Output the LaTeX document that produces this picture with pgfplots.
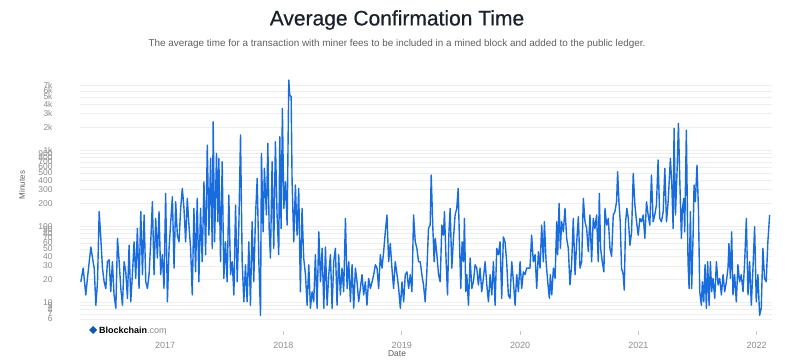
\documentclass[border=0pt]{standalone}
\usepackage{pgfplots}
\pgfplotsset{compat=1.18}
\usepackage{pgfplotstable}
\usepackage{fontspec}
\setmainfont{Liberation Sans}
\newfontfamily\titlefont[FakeBold=0.5]{Liberation Sans}
\definecolor{lineblue}{RGB}{24,108,222}
\definecolor{ticktext}{RGB}{140,140,140}
\definecolor{titletext}{RGB}{28,32,44}
\definecolor{subtext}{RGB}{95,95,95}
\pgfplotstableread{
x y
2016.287 18.5
2016.307 28
2016.329 12.4
2016.343 20.5
2016.358 34
2016.372 53
2016.386 38
2016.400 28
2016.414 9.1
2016.428 18.5
2016.442 155
2016.456 69
2016.470 28
2016.484 18.5
2016.498 15.1
2016.512 34
2016.526 36
2016.540 13.7
2016.554 34
2016.568 12.4
2016.583 8.3
2016.597 69
2016.611 34
2016.625 15.1
2016.639 9.1
2016.653 34
2016.667 25
2016.681 11.2
2016.695 56
2016.709 10.1
2016.723 23
2016.737 62
2016.751 20.5
2016.765 93
2016.779 15.1
2016.794 155
2016.808 23
2016.822 140
2016.836 18.5
2016.850 15.1
2016.864 23
2016.878 62
2016.892 209
2016.906 23
2016.920 126
2016.934 38
2016.948 155
2016.962 23
2016.976 42
2016.990 15.1
2017.004 269
2017.019 10.1
2017.033 51
2017.047 114
2017.061 243
2017.075 28
2017.089 209
2017.103 76
2017.117 62
2017.131 171
2017.145 313
2017.159 171
2017.173 62
2017.187 231
2017.201 103
2017.215 51
2017.229 12.4
2017.243 171
2017.257 25
2017.271 231
2017.285 18.5
2017.299 171
2017.313 34
2017.328 383
2017.342 42
2017.356 1165
2017.370 76
2017.384 778
2017.398 51
2017.406 2360
2017.418 62
2017.434 904
2017.446 114
2017.454 778
2017.468 34
2017.482 703
2017.496 20.5
2017.510 62
2017.524 18.5
2017.538 256
2017.553 23
2017.567 34
2017.581 12.4
2017.595 189
2017.609 18.5
2017.623 103
2017.637 1580
2017.651 34
2017.665 10.1
2017.679 31
2017.693 10.1
2017.707 62
2017.721 9.1
2017.735 114
2017.749 18.5
2017.764 140
2017.778 424
2017.792 34
2017.806 6.7
2017.814 904
2017.828 84
2017.839 574
2017.856 140
2017.868 1225
2017.879 93
2017.890 38
2017.904 703
2017.918 51
2017.932 1290
2017.946 140
2017.960 42
2017.969 1500
2017.980 93
2017.991 3530
2018.003 171
2018.017 383
2018.031 103
2018.045 8340
2018.053 5300
2018.065 5030
2018.073 383
2018.087 62
2018.101 347
2018.115 76
2018.129 313
2018.143 13.7
2018.157 171
2018.171 38
2018.186 23
2018.200 9.1
2018.214 31
2018.228 8.3
2018.242 13.7
2018.256 10.1
2018.270 42
2018.284 8.3
2018.299 84
2018.313 18.5
2018.327 51
2018.341 8.3
2018.355 53
2018.369 9.1
2018.383 23
2018.397 42
2018.411 8.3
2018.425 34
2018.439 51
2018.453 9.1
2018.467 42
2018.481 12.4
2018.495 28
2018.509 13.7
2018.524 126
2018.538 15.1
2018.552 34
2018.566 10.1
2018.580 31
2018.594 8.3
2018.608 28
2018.622 18.5
2018.636 10.1
2018.650 15.1
2018.664 23
2018.678 12.4
2018.692 18.5
2018.706 9.1
2018.720 20.5
2018.735 15.1
2018.749 18.5
2018.763 23
2018.777 31
2018.791 28
2018.805 15.1
2018.819 42
2018.833 28
2018.847 46
2018.861 84
2018.875 140
2018.889 34
2018.903 59
2018.917 28
2018.931 15.1
2018.945 34
2018.960 23
2018.974 15.1
2018.988 8.3
2019.002 18.5
2019.016 10.1
2019.030 23
2019.044 25
2019.058 15.1
2019.072 23
2019.086 13.7
2019.100 140
2019.114 62
2019.128 51
2019.142 34
2019.156 34
2019.170 23
2019.184 16.8
2019.198 10.1
2019.212 25
2019.226 93
2019.240 103
2019.249 469
2019.263 93
2019.274 34
2019.283 69
2019.297 42
2019.311 23
2019.325 18.5
2019.339 103
2019.353 76
2019.361 155
2019.375 34
2019.387 12.4
2019.398 76
2019.409 171
2019.423 28
2019.437 69
2019.451 140
2019.465 171
2019.477 313
2019.488 62
2019.499 15.1
2019.510 62
2019.522 34
2019.530 126
2019.541 13.7
2019.550 23
2019.564 9.1
2019.578 38
2019.592 15.1
2019.606 18.5
2019.620 31
2019.634 28
2019.648 16.8
2019.662 28
2019.676 13.7
2019.690 20.5
2019.705 34
2019.719 16.8
2019.733 10.1
2019.747 23
2019.761 12.4
2019.775 34
2019.789 9.1
2019.803 51
2019.817 42
2019.831 62
2019.845 11.2
2019.859 72
2019.873 62
2019.887 34
2019.901 12.4
2019.915 11.2
2019.930 34
2019.944 18.5
2019.958 9.1
2019.972 23
2019.986 13.7
2020.000 34
2020.014 15.1
2020.028 25
2020.042 23
2020.056 28
2020.070 28
2020.084 28
2020.098 76
2020.112 34
2020.127 42
2020.141 15.1
2020.155 46
2020.169 28
2020.183 103
2020.197 34
2020.206 114
2020.220 34
2020.234 18.5
2020.248 11.2
2020.256 23
2020.268 12.4
2020.282 28
2020.296 20.5
2020.310 114
2020.318 42
2020.330 199
2020.341 51
2020.352 114
2020.366 84
2020.380 171
2020.394 69
2020.408 51
2020.422 16.8
2020.436 31
2020.450 126
2020.465 23
2020.479 62
2020.493 133
2020.507 28
2020.521 34
2020.535 231
2020.549 114
2020.563 93
2020.577 46
2020.591 140
2020.605 34
2020.619 126
2020.633 93
2020.647 140
2020.661 34
2020.670 269
2020.681 51
2020.695 34
2020.709 25
2020.718 171
2020.732 103
2020.746 126
2020.760 51
2020.774 40
2020.788 140
2020.802 155
2020.816 209
2020.825 519
2020.836 209
2020.847 114
2020.858 28
2020.872 23
2020.881 14.4
2020.892 114
2020.903 171
2020.915 126
2020.929 56
2020.943 84
2020.957 493
2020.971 189
2020.985 114
2020.999 76
2021.013 126
2021.027 114
2021.041 140
2021.055 69
2021.069 209
2021.083 140
2021.097 103
2021.111 469
2021.125 114
2021.139 140
2021.153 189
2021.167 740
2021.181 126
2021.195 114
2021.210 155
2021.224 574
2021.238 114
2021.252 209
2021.271 778
2021.283 347
2021.294 93
2021.302 1930
2021.314 140
2021.328 574
2021.339 2240
2021.350 424
2021.364 69
2021.373 171
2021.384 231
2021.392 84
2021.406 1830
2021.420 34
2021.429 15.1
2021.440 155
2021.451 15.1
2021.463 76
2021.471 347
2021.482 209
2021.496 635
2021.508 171
2021.519 13.7
2021.533 9.1
2021.541 18.5
2021.553 10.1
2021.564 31
2021.575 8.3
2021.586 34
2021.598 9.1
2021.609 34
2021.620 13.7
2021.631 20.5
2021.646 11.2
2021.660 34
2021.674 16.8
2021.688 20.5
2021.702 12.4
2021.716 23
2021.730 13.7
2021.744 18.5
2021.758 28
2021.766 59
2021.778 20.5
2021.789 84
2021.800 12.4
2021.814 23
2021.828 10.1
2021.842 31
2021.856 18.5
2021.870 23
2021.885 13.7
2021.899 34
2021.913 126
2021.927 12.4
2021.941 34
2021.955 9.1
2021.969 28
2021.983 98
2021.997 10.1
2022.011 23
2022.025 6.7
2022.039 8.3
2022.053 51
2022.067 20.5
2022.081 18.5
2022.095 62
2022.110 140
}\conftime
\begin{document}
\begin{tikzpicture}
\useasboundingbox (0,0) rectangle (791bp,364bp);
\begin{axis}[
  at={(80bp,39bp)}, anchor=south west,
  scale only axis, width=692bp, height=247bp,
  xmin=2016.28, xmax=2022.13,
  ymode=log, ymin=5, ymax=8860,
  axis line style={draw=none},
  ytick={6,7,8,9,10,20,30,40,50,60,70,80,90,100,200,300,400,500,600,700,800,900,1000,2000,3000,4000,5000,6000,7000},
  yticklabels={6,7,8,9,10,20,30,40,50,60,70,80,90,100,200,300,400,500,600,700,800,900,1k,2k,3k,4k,5k,6k,7k},
  ytick style={draw=none},
  yticklabel style={font=\fontsize{8.5bp}{8.5bp}\selectfont, text=ticktext, anchor=east, xshift=-20bp},
  xtick={2017,2018,2019,2020,2021,2022},
  xticklabels={2017,2018,2019,2020,2021,2022},
  xtick pos=bottom, tick align=outside,
  major tick length=4bp,
  xtick style={draw=gray!45, line width=0.6pt, yshift=-6bp},
  xticklabel style={font=\fontsize{9bp}{9bp}\selectfont, text=ticktext, yshift=-10bp},
  ymajorgrids, grid style={draw=gray!13, line width=0.6pt},
  clip=false,
]
\addplot[lineblue, line width=1.4pt, line join=round] table[x=x, y=y] {\conftime};
\end{axis}
\node[text=titletext, font=\titlefont\fontsize{21bp}{21bp}\selectfont] at (397bp,344bp) {Average Confirmation Time};
\node[text=subtext, font=\fontsize{9.9bp}{9.9bp}\selectfont] at (397bp,320bp) {The average time for a transaction with miner fees to be included in a mined block and added to the public ledger.};
\node[rotate=90, text=subtext, font=\fontsize{8bp}{8bp}\selectfont] at (22bp,179bp) {Minutes};
\node[text=subtext, font=\fontsize{8.5bp}{8.5bp}\selectfont] at (397bp,10bp) {Date};
\fill[lineblue!80!black] (93bp,30bp) -- (97bp,34bp) -- (93bp,38bp) -- (89bp,34bp) -- cycle;
\node[anchor=west, font=\fontsize{9bp}{9bp}\selectfont, inner sep=0pt] at (99bp,34bp) {\textbf{Blockchain}\textcolor{ticktext}{.com}};
\end{tikzpicture}
\end{document}
